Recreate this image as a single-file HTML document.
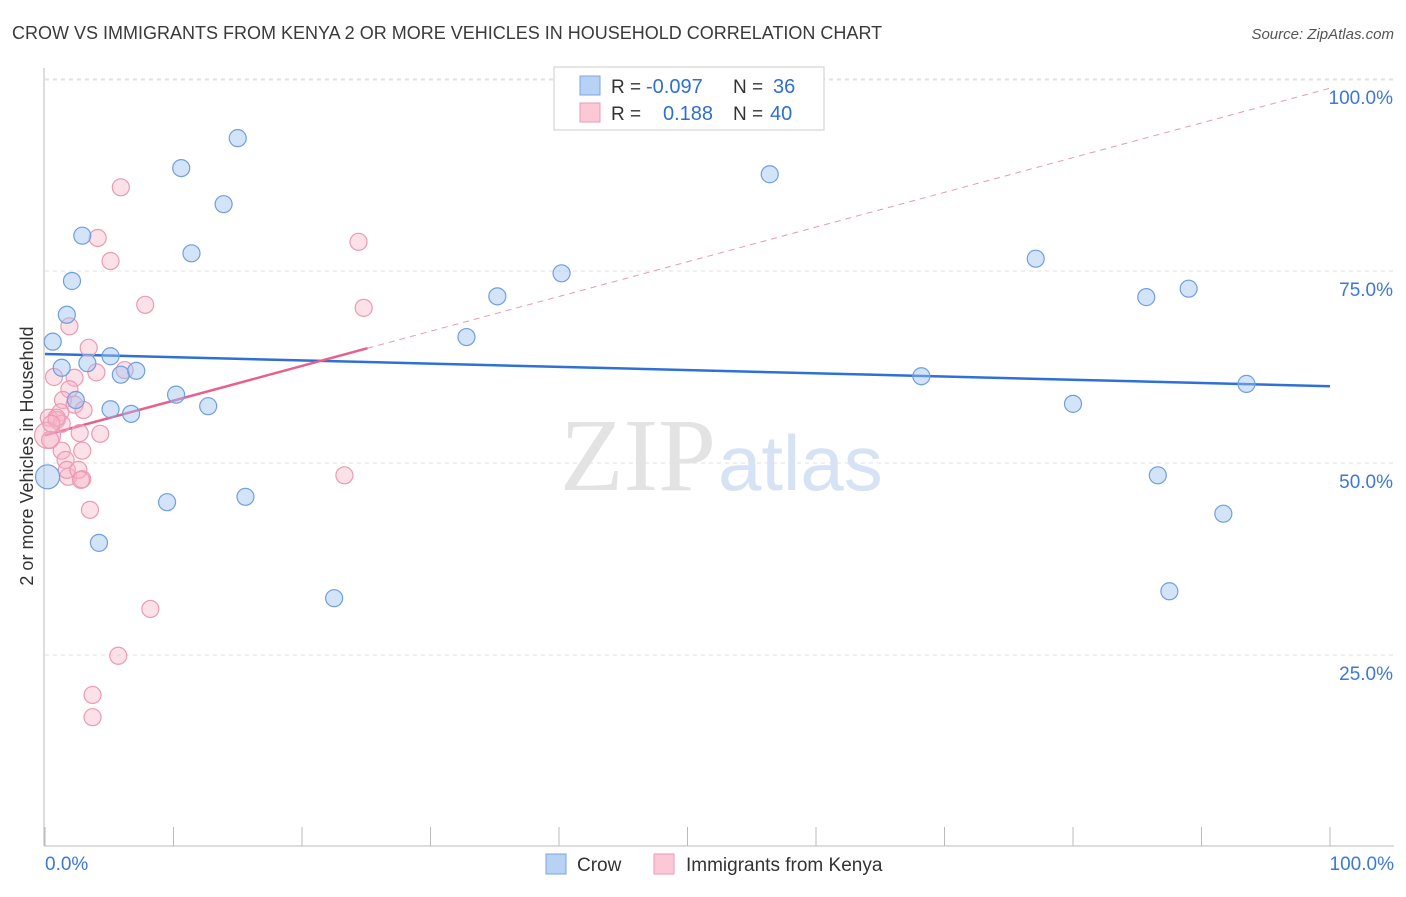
<!DOCTYPE html>
<html><head><meta charset="utf-8"><style>
body{margin:0;background:#fff;font-family:"Liberation Sans",sans-serif}
</style></head><body>
<svg width="1406" height="892" xmlns="http://www.w3.org/2000/svg" id="chart">
<text x="12" y="39" font-size="18" fill="#3a3a3a">CROW VS IMMIGRANTS FROM KENYA 2 OR MORE VEHICLES IN HOUSEHOLD CORRELATION CHART</text>
<text x="1394" y="39" font-size="15" fill="#555" font-style="italic" text-anchor="end">Source: ZipAtlas.com</text>
<text x="716" y="490" font-size="104" fill="#e3e3e3" text-anchor="end" font-family="Liberation Serif,serif">ZIP</text>
<text x="718" y="490" font-size="78" fill="#d5e3f5">atlas</text>
<text x="33" y="456" font-size="18" fill="#333" text-anchor="middle" transform="rotate(-90 33 456)">2 or more Vehicles in Household</text>
<g id="grid"></g><g id="axes"></g><g id="trend"></g><g id="pts"></g>
<g>
<rect x="554" y="67" width="270" height="63" fill="#fff" stroke="#ccc"/>
<rect x="580" y="76" width="20" height="19" fill="#b8d2f5" stroke="#7aa6e0"/>
<rect x="580" y="103" width="20" height="19" fill="#fcc8d6" stroke="#eb9ab3"/>
<text x="611" y="93" font-size="19" fill="#333">R = </text><text x="646" y="93" font-size="20" fill="#2f6fd0">-0.097</text>
<text x="733" y="93" font-size="19" fill="#333">N = </text><text x="773" y="93" font-size="20" fill="#2f6fd0">36</text>
<text x="611" y="120" font-size="19" fill="#333">R = </text><text x="663" y="120" font-size="20" fill="#2f6fd0">0.188</text>
<text x="733" y="120" font-size="19" fill="#333">N = </text><text x="770" y="120" font-size="20" fill="#2f6fd0">40</text>
</g>
<g>
<rect x="546" y="854" width="20" height="20" fill="#b8d2f5" stroke="#7aa6e0"/>
<text x="577" y="871" font-size="19" fill="#333">Crow</text>
<rect x="654" y="854" width="20" height="20" fill="#fcc8d6" stroke="#eb9ab3"/>
<text x="686" y="871" font-size="19" fill="#333">Immigrants from Kenya</text>
</g>
</svg>
<script>
const blueX=[15.0,10.6,13.9,2.9,11.4,2.1,1.7,0.6,5.1,3.3,5.9,7.1,10.2,2.4,5.1,12.7,6.7,0.2,9.5,15.6,4.2,22.5,32.8,35.2,40.2,56.4,68.2,77.1,80.0,85.7,89.0,93.5,86.6,91.7,87.5,1.3];
const blueY=[92.3,88.4,83.7,79.6,77.3,73.7,69.3,65.8,63.9,63.0,61.5,62.0,58.9,58.2,57.0,57.4,56.4,48.2,44.9,45.6,39.6,32.4,66.4,71.7,74.7,87.6,61.3,76.6,57.7,71.6,72.7,60.3,48.4,43.4,33.3,62.4];
const pinkX=[5.9,4.1,5.1,24.4,7.8,24.8,1.9,3.4,4.0,0.7,2.3,1.9,1.4,2.3,3.0,1.2,0.3,0.9,1.3,0.2,2.7,4.3,2.9,1.3,1.6,1.8,2.9,23.3,3.5,8.2,5.7,3.7,3.7,6.2,0.9,0.5,0.4,1.7,2.6,2.8];
const pinkY=[85.9,79.3,76.3,78.8,70.6,70.2,67.8,65.0,61.8,61.2,61.1,59.6,58.2,57.6,56.9,56.6,55.9,55.6,55.1,53.6,53.9,53.8,51.6,51.6,50.4,48.2,47.9,48.4,43.9,31.0,24.9,19.8,16.9,62.1,55.9,55.1,53.0,49.1,49.1,47.8];
const blueTrend=[64.2,60.0];
const pinkTrend=[53.6,98.8];
const pinkSolidEnd=25.1;
const yTicks=[25,50,75,100];
const NS="http://www.w3.org/2000/svg";
const sx=v=>45+v*12.85, sy=v=>847-v*7.68;
function mk(t,a,p){const e=document.createElementNS(NS,t);for(const k in a)e.setAttribute(k,a[k]);document.getElementById(p).appendChild(e);return e;}
yTicks.forEach(t=>{
 const l=mk('line',{x1:45,x2:1394,y1:sy(t),y2:sy(t),stroke:'#e2e2e2','stroke-dasharray':'4,4'},'grid');
 
 
 const tx=mk('text',{x:1393,y:sy(t)+25,'font-size':19,fill:'#3b78d8','text-anchor':'end'},'grid');tx.textContent=t.toFixed(1)+'%';
 
 
});
mk('line',{x1:45,x2:1394,y1:80,y2:80,stroke:'#e2e2e2','stroke-dasharray':'4,4'},'grid');
mk('line',{x1:44,x2:44,y1:68,y2:846,stroke:'#bbb'},'axes');
mk('line',{x1:44,x2:1394,y1:846,y2:846,stroke:'#bbb'},'axes');
for(let i=0;i<=10;i++){mk('line',{x1:sx(i*10),x2:sx(i*10),y1:827,y2:846,stroke:'#bbb'},'axes');}
let a=mk('text',{x:45,y:870,'font-size':19,fill:'#3b78d8'},'axes');a.textContent='0.0%';


a=mk('text',{x:1394,y:870,'font-size':19,fill:'#3b78d8','text-anchor':'end'},'axes');a.textContent='100.0%';


const py=x=>pinkTrend[0]+(pinkTrend[1]-pinkTrend[0])*x/100;
let t=mk('line',{x1:sx(0),y1:sy(blueTrend[0]),x2:sx(100),y2:sy(blueTrend[1]),stroke:'#2f6fd8','stroke-width':2.5},'trend');


t=mk('line',{x1:sx(pinkSolidEnd),y1:sy(py(pinkSolidEnd)),x2:sx(100),y2:sy(py(100)),stroke:'#e89ab0','stroke-width':1,'stroke-dasharray':'6,5'},'trend');


t=mk('line',{x1:sx(0),y1:sy(py(0)),x2:sx(pinkSolidEnd),y2:sy(py(pinkSolidEnd)),stroke:'#e8608a','stroke-width':2.5},'trend');


pinkX.forEach((x,i)=>{const c=mk('circle',{cx:sx(x),cy:sy(pinkY[i]),r:i==19?13:8.5,fill:'rgba(248,180,200,0.4)',stroke:'#eb9ab3','stroke-width':1.2},'pts');
 
 });
blueX.forEach((x,i)=>{const c=mk('circle',{cx:sx(x),cy:sy(blueY[i]),r:i==17?12:8.5,fill:'rgba(160,196,240,0.45)',stroke:'#6f9fe0','stroke-width':1.2},'pts');
 
 });
</script>
</body></html>
